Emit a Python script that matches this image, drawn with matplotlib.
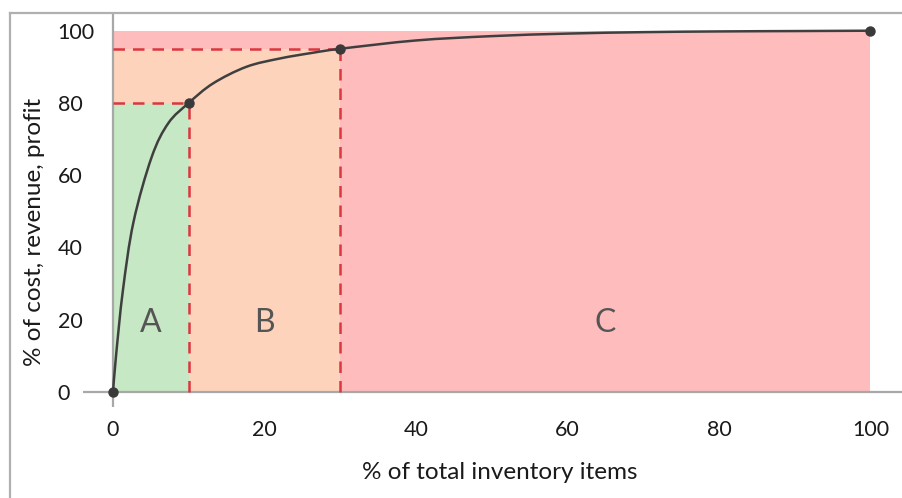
import matplotlib
matplotlib.use("Agg")
import matplotlib.pyplot as plt
from matplotlib.lines import Line2D
from matplotlib.path import Path
from matplotlib.patches import PathPatch

plt.rcParams['font.family'] = ['Lato', 'DejaVu Sans']

# ABC classes: upper bound on x (% items) and y (% value)
class_names = ['A', 'B', 'C']
class_x_end = [10, 30, 100]
class_y_end = [80, 95, 100]
class_colors = ['#c6e8c4', '#fdd3bb', '#ffbcbd']
label_x = [5, 20, 65]

# cumulative curve
curve_x = [0, 0.4, 1.3, 2.7, 5.1, 7.3, 10, 13.2, 17.6, 22, 26.4, 30, 40, 50, 60, 70, 80, 90, 100]
curve_y = [0, 10, 28, 47, 65, 74.4, 80, 85.4, 90, 92.3, 93.9, 95, 97.3, 98.5, 99.2, 99.6, 99.8, 99.9, 100]
marker_x = [0, 10, 30, 100]
marker_y = [0, 80, 95, 100]

ticks = [0, 20, 40, 60, 80, 100]


def smooth_path(ax, xs, ys, tension=6.0):
    # catmull-rom style bezier through the points, drawn in pixel space
    pts = ax.transData.transform(list(zip(xs, ys)))
    verts = [tuple(pts[0])]
    codes = [Path.MOVETO]
    n = len(pts)
    for i in range(n - 1):
        p0 = pts[max(i - 1, 0)]
        p1 = pts[i]
        p2 = pts[i + 1]
        p3 = pts[min(i + 2, n - 1)]
        c1 = p1 + (p2 - p0) / tension
        c2 = p2 - (p3 - p1) / tension
        verts += [tuple(c1), tuple(c2), tuple(p2)]
        codes += [Path.CURVE4] * 3
    return Path(verts, codes)


W, H = 903, 498
fig = plt.figure(figsize=(W / 100, H / 100), dpi=100)
ax = fig.add_axes([82.7 / W, 91 / H, 819.6 / W, 394 / H])
ax.set_xlim(-4, 104.2)
ax.set_ylim(-4.15, 104.9)

# shaded class regions, widest first so smaller ones sit on top
for i in reversed(range(len(class_names))):
    ax.bar(0, class_y_end[i], width=class_x_end[i], align='edge',
           color=class_colors[i], linewidth=0, zorder=1)

# dashed cut-off lines
red = '#dc3640'
for xe, ye in zip(class_x_end[:2], class_y_end[:2]):
    ax.plot([0, xe], [ye, ye], color=red, lw=1.8, dashes=(4.6, 3.2), zorder=3)
    ax.plot([xe, xe], [0, ye], color=red, lw=1.8, dashes=(4.6, 3.2), zorder=3)

# axis lines through the origin
ax.axhline(0, color='#a8a8a8', lw=1.6, zorder=2)
ax.axvline(0, color='#a8a8a8', lw=1.6, zorder=2)

curve = PathPatch(smooth_path(ax, curve_x, curve_y), transform=None,
                  facecolor='none', edgecolor='#3f3f3f', lw=1.8, zorder=4,
                  capstyle='round', joinstyle='round')
ax.add_artist(curve)
ax.plot(marker_x, marker_y, 'o', color='#3a3a3a', ms=6.5, zorder=5, clip_on=False)

for name, lx in zip(class_names, label_x):
    ax.text(lx, 19, name, fontsize=23, color='#555555', ha='center', va='center', zorder=6)

for s in ax.spines.values():
    s.set_visible(False)
ax.set_xticks(ticks)
ax.set_yticks(ticks)
ax.tick_params(axis='both', length=0, labelsize=15.5, labelcolor='#1a1a1a')
ax.tick_params(axis='x', pad=9)
ax.tick_params(axis='y', pad=18)
for lab in ax.get_yticklabels():
    lab.set_horizontalalignment('left')

fig.text(35 / W, 1 - 232 / H, '% of cost, revenue, profit', rotation=90,
         fontsize=17.5, color='#1a1a1a', ha='center', va='center')
fig.text(500 / W, 1 - 472 / H, '% of total inventory items',
         fontsize=17.5, color='#1a1a1a', ha='center', va='center')

# outer border of the picture
fig.add_artist(Line2D([10 / W, 10 / W], [0, 1 - 13 / H], color='#b0b0b0', lw=1.6))
fig.add_artist(Line2D([10 / W, 1], [1 - 13 / H, 1 - 13 / H], color='#b0b0b0', lw=1.6))

fig.savefig('out.png', dpi=100)
